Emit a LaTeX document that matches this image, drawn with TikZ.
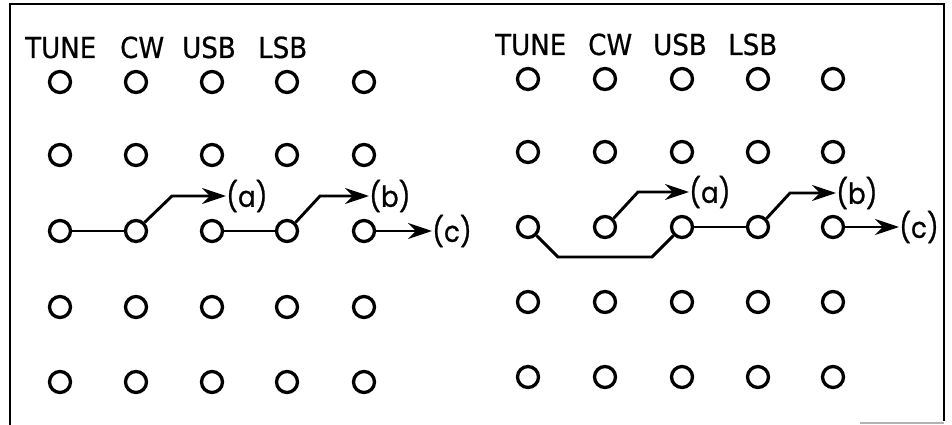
\documentclass[tikz,border=0pt]{standalone}
\usepackage{fontspec}
\setmainfont{DejaVu Sans}
\newfontfamily\modefont{DejaVu Sans}[FakeStretch=0.9,BoldFont=DejaVu Sans,BoldFeatures={FakeBold=0.6}]
\newfontfamily\labelfont{Poppins}[FakeStretch=0.9,BoldFont=Poppins,BoldFeatures={FakeBold=0.8}]
\usetikzlibrary{arrows.meta}
\begin{document}
\begin{tikzpicture}[x=1pt,y=-1pt,
  hole/.style={circle,draw,line width=3.3pt,minimum size=21pt,inner sep=0pt},
  wire/.style={line width=2.9pt,line join=miter},
  feed/.style={wire,-{Stealth[length=24pt,width=16pt,inset=8pt]}},
  mode/.style={anchor=base west,inner sep=0pt,font=\modefont\bfseries\fontsize{29}{29}\selectfont},
  outlbl/.style={anchor=west,inner sep=0pt,font=\labelfont\bfseries\fontsize{29}{29}\selectfont},
  frame/.style={line width=2.4pt}]
\useasboundingbox (0,0) rectangle (952,425);
% panel outline
\draw[frame] (10,425) -- (10,4);
\draw[frame] (944,3.3) -- (944,421);
\draw[line width=1.6pt] (9,4) -- (945,4);
\draw[gray!60,line width=1.5pt] (860,423) -- (944,423);

% ---------- left panel ----------
\foreach \r/\y in {1/82,2/155,3/231,4/307,5/382}
  \foreach \c/\x in {1/60,2/136,3/212,4/287,5/364}
    \node[hole] (L\r\c) at (\x,\y) {};
\node[mode] (lt) at (25,58) {TUNE};
\node[mode] (lc) at (120,58) {CW};
\node[mode] (lu) at (182,58) {USB};
\node[mode] (ll) at (258,58) {LSB};

\node[outlbl] (La) at (226,196) {(a)};
\node[outlbl] (Lb) at (369,196) {(b)};
\node[outlbl] (Lc) at (432,231) {(c)};
\coordinate (Lka) at (172,196);
\coordinate (Lkb) at (320,196);

\draw[wire] (L31) -- (L32);
\draw[feed] (L32.north east) -- (Lka) -- (La.west);
\draw[wire] (L33) -- (L34);
\draw[feed] (L34.north east) -- (Lkb) -- (Lb.west);
\draw[feed] (L35) -- (Lc.west);

% ---------- right panel ----------
\foreach \r/\y in {1/79,2/152,3/227,4/302,5/377}
  \foreach \c/\x in {1/528,2/605,3/682,4/758,5/833}
    \node[hole] (R\r\c) at (\x,\y) {};
\node[mode] (rt) at (495,55) {TUNE};
\node[mode] (rc) at (588,55) {CW};
\node[mode] (ru) at (653,55) {USB};
\node[mode] (rl) at (728,55) {LSB};

\node[outlbl] (Ra) at (689,192) {(a)};
\node[outlbl] (Rb) at (836,193) {(b)};
\node[outlbl] (Rc) at (899,227) {(c)};
\coordinate (Rk1) at (558,257);
\coordinate (Rk2) at (652,257);
\coordinate (Rka) at (638,192);
\coordinate (Rkb) at (790,193);

\draw[wire] (R31.south east) -- (Rk1) -- (Rk2) -- (R33.south west);
\draw[wire] (R33) -- (R34);
\draw[feed] (R32.north east) -- (Rka) -- (Ra.west);
\draw[feed] (R34.north east) -- (Rkb) -- (Rb.west);
\draw[feed] (R35) -- (Rc.west);
\end{tikzpicture}
\end{document}
